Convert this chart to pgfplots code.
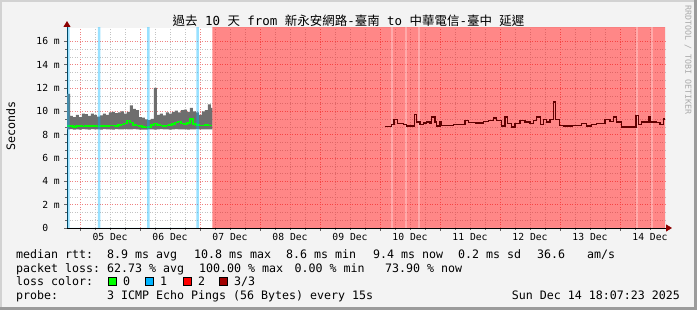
\documentclass[border=0pt]{standalone}
\usepackage{fontspec}
\setmonofont{DejaVu Sans Mono}
\newfontfamily\cjk{Noto Sans CJK TC}
\usepackage{pgfplots}
\usepackage{pgfplotstable}
\pgfplotsset{compat=1.18}
\usetikzlibrary{arrows.meta}

\definecolor{bgc}{RGB}{243,243,243}
\definecolor{smoke}{RGB}{110,110,110}
\definecolor{loss0}{RGB}{0,255,0}
\definecolor{loss1}{RGB}{0,180,255}
\definecolor{loss2}{RGB}{255,0,0}
\definecolor{loss3}{RGB}{160,0,0}
\definecolor{medred}{RGB}{95,0,0}
\definecolor{arrowred}{RGB}{140,0,0}
\definecolor{mgrid}{RGB}{238,130,130}
\definecolor{ngrid}{RGB}{195,195,195}
\definecolor{frameL}{RGB}{210,210,210}
\definecolor{frameD}{RGB}{155,155,155}
\definecolor{wmark}{RGB}{170,170,170}

\newcommand\axisfont{\ttfamily\fontsize{9.7}{11}\selectfont}
\newcommand\legfont{\ttfamily\fontsize{11.63}{13}\selectfont}
\newcommand\titlefont{\ttfamily\fontsize{12.46}{14}\selectfont}
\newcommand\wfont{\ttfamily\fontsize{8.3}{9}\selectfont}

% median rtt while loss was 0 (time as day of December)
\pgfplotstableread{
x med
4.783 8.72
4.833 8.75
4.88 8.68
4.93 8.72
4.98 8.75
5.03 8.70
5.08 8.74
5.13 8.72
5.18 8.76
5.23 8.73
5.28 8.71
5.33 8.74
5.38 8.72
5.43 8.75
5.48 8.80
5.53 8.78
5.58 8.76
5.63 8.82
5.68 8.86
5.73 8.95
5.78 9.20
5.83 9.05
5.88 8.85
5.93 8.80
5.98 8.72
6.03 8.65
6.08 8.62
6.13 8.68
6.18 8.85
6.23 8.95
6.28 8.82
6.33 8.78
6.38 8.76
6.43 8.80
6.48 8.85
6.53 8.90
6.58 9.05
6.63 9.12
6.68 8.95
6.73 8.90
6.78 9.00
6.83 9.35
6.88 8.90
6.93 8.82
6.98 8.78
7.03 8.80
7.08 8.82
7.13 8.80
7.18 8.78
7.205 8.78
}\meddata

% smoke band: upper edge left to right, then lower edge right to left
\pgfplotstableread{
x y
4.783 11.5
4.833 9.6
4.88 9.5
4.93 9.7
4.98 9.5
5.03 9.8
5.08 9.75
5.13 9.6
5.18 9.8
5.23 9.7
5.28 9.55
5.33 9.66
5.38 9.8
5.43 9.7
5.48 9.9
5.53 9.95
5.58 9.85
5.63 9.9
5.68 10.0
5.73 9.8
5.78 9.95
5.83 10.5
5.88 10.2
5.93 10.1
5.98 9.5
6.03 9.45
6.08 9.3
6.13 9.25
6.18 9.35
6.23 12.0
6.28 9.7
6.33 9.8
6.38 9.65
6.43 9.9
6.48 9.8
6.53 9.95
6.58 10.05
6.63 9.9
6.68 10.1
6.73 10.15
6.78 9.95
6.83 10.3
6.88 10.0
6.93 9.9
6.98 9.7
7.03 10.0
7.08 10.1
7.13 10.6
7.18 10.3
7.205 10.3
7.205 8.46
7.18 8.46
7.13 8.45
7.08 8.46
7.03 8.45
6.98 8.47
6.93 8.45
6.88 8.46
6.83 8.44
6.78 8.45
6.73 8.46
6.68 8.45
6.63 8.47
6.58 8.46
6.53 8.44
6.48 8.46
6.43 8.45
6.38 8.47
6.33 8.45
6.28 8.44
6.23 8.46
6.18 8.45
6.13 8.44
6.08 8.42
6.03 8.43
5.98 8.45
5.93 8.47
5.88 8.45
5.83 8.46
5.78 8.48
5.73 8.46
5.68 8.45
5.63 8.47
5.58 8.44
5.53 8.46
5.48 8.45
5.43 8.47
5.38 8.44
5.33 8.46
5.28 8.45
5.23 8.47
5.18 8.43
5.13 8.45
5.08 8.48
5.03 8.44
4.98 8.46
4.93 8.44
4.88 8.47
4.833 8.45
4.783 8.42
}\smokepoly

% median under heavy loss
\pgfplotstableread{
x med
10.083 8.71
10.195 8.86
10.233 9.29
10.288 8.94
10.388 8.86
10.445 8.74
10.572 9.72
10.612 9.08
10.667 8.86
10.722 9.00
10.778 9.08
10.833 8.94
10.862 9.51
10.917 9.08
10.945 8.74
11.000 9.08
11.028 8.80
11.222 8.86
11.417 9.23
11.472 9.04
11.600 9.00
11.722 9.12
11.805 9.20
11.888 9.43
11.945 9.20
12.028 8.74
12.083 9.51
12.122 8.94
12.195 8.66
12.250 8.94
12.333 9.23
12.417 9.08
12.500 8.94
12.555 9.23
12.612 9.51
12.678 8.86
12.722 9.30
12.778 9.08
12.833 9.30
12.888 10.80
12.928 9.30
12.988 8.80
13.055 8.74
13.200 8.78
13.362 8.94
13.445 8.74
13.528 8.86
13.612 8.94
13.750 9.30
13.833 9.12
13.888 9.51
13.945 9.08
14.028 8.66
14.267 9.66
14.305 8.86
14.362 9.08
14.472 9.57
14.500 9.08
14.612 9.04
14.667 8.86
14.722 9.35
14.750 9.35
}\reddata

\begin{document}
\begin{tikzpicture}
\fill[bgc] (0pt,0pt) rectangle (697pt,310pt);
\fill[frameL] (0pt,0pt) rectangle (2pt,310pt);
\fill[frameL] (0pt,308pt) rectangle (697pt,310pt);
\fill[frameD] (694pt,0pt) rectangle (697pt,310pt);
\fill[frameD] (0pt,0pt) rectangle (697pt,3pt);

\begin{axis}[
  at={(67pt,82pt)}, anchor=south west,
  width=598pt, height=200pt, scale only axis,
  xmin=4.783, xmax=14.75, ymin=0, ymax=17.14,
  axis background/.style={fill=white},
  axis lines=left,
  x axis line style={black, line width=0.8pt, shorten >=-7pt,
     -{Triangle[width=7pt,length=6pt,fill=arrowred,color=arrowred]}},
  y axis line style={black, line width=0.8pt, shorten >=-7pt,
     -{Triangle[width=7pt,length=6pt,fill=arrowred,color=arrowred]}},
  grid=both,
  major grid style={mgrid, line width=0.5pt, dash pattern=on 1pt off 1.5pt},
  minor grid style={ngrid, line width=0.5pt, dash pattern=on 1pt off 1.5pt},
  tick align=outside,
  major tick length=3pt, minor tick length=2pt,
  tick style={black!60, line width=0.4pt},
  xtick={5,6,...,14},
  xticklabels={},
  minor xtick={5.25,5.5,5.75,6.25,6.5,6.75,7.25,7.5,7.75,8.25,8.5,8.75,9.25,9.5,9.75,10.25,10.5,10.75,11.25,11.5,11.75,12.25,12.5,12.75,13.25,13.5,13.75,14.25,14.5},
  extra x ticks={5.5,6.5,7.5,8.5,9.5,10.5,11.5,12.5,13.5,14.5},
  extra x tick labels={05 Dec,06 Dec,07 Dec,08 Dec,09 Dec,10 Dec,11 Dec,12 Dec,13 Dec,14 Dec},
  extra x tick style={xmajorgrids=false, major tick length=0pt},
  ytick={0,2,4,6,8,10,12,14,16},
  yticklabels={0\hphantom{\ m},2 m,4 m,6 m,8 m,10 m,12 m,14 m,16 m},
  minor y tick num=2,
  tick label style={font=\axisfont, black},
  yticklabel style={anchor=east, inner xsep=0pt, xshift=-4pt},
  xticklabel style={yshift=-2pt},
  clip=true,
]
% smoke
\addplot[const plot, fill=smoke, draw=none] table[x=x, y=y] {\smokepoly} --cycle;
% median, loss 0
\addplot[const plot, color=loss0, line width=1.6pt] table[x=x, y=med] {\meddata};
% loss 1 background strips
\addplot[const plot, fill=loss1, fill opacity=0.4, draw=none]
  coordinates {(4.784,17.3) (4.826,0) (5.296,17.3) (5.338,0) (6.117,17.3) (6.159,0) (6.941,17.3) (6.983,0)} \closedcycle;
% loss background (red)
\addplot[const plot, fill=loss2, fill opacity=0.47, draw=none]
  coordinates {(7.205,17.3) (14.75,17.3)} \closedcycle;
% lighter gaps in the loss background
\addplot[const plot, fill=white, fill opacity=0.45, draw=none]
  coordinates {(10.188,17.3) (10.212,0) (10.421,17.3) (10.445,0) (10.638,17.3) (10.662,0) (14.271,17.3) (14.295,0) (14.521,17.3) (14.545,0)} \closedcycle;
% median under heavy loss
\addplot[const plot, color=medred, line width=1.3pt] table[x=x, y=med] {\reddata};
\end{axis}

% title
\node[anchor=base, inner sep=0pt, font=\titlefont] at (348.5pt,284.5pt)
  {{\cjk 過去} 10 {\cjk 天} from {\cjk 新永安網路}-{\cjk 臺南} to {\cjk 中華電信}-{\cjk 臺中} {\cjk 延遲}};
% y label
\node[rotate=90, inner sep=0pt, font=\legfont] at (10.8pt,184pt) {Seconds};
% watermark
\node[rotate=-90, inner sep=0pt, font=\wfont, text=wmark] at (688pt,250pt) {RRDTOOL / TOBI OETIKER};

% legend
\begin{scope}[every node/.style={anchor=base west, inner sep=0pt, font=\legfont}]
\node at (16pt,51.7pt) {median rtt:};
\node at (107pt,51.7pt) {8.9 ms avg};
\node at (194pt,51.7pt) {10.8 ms max};
\node at (286pt,51.7pt) {8.6 ms min};
\node at (373pt,51.7pt) {9.4 ms now};
\node at (458pt,51.7pt) {0.2 ms sd};
\node at (537pt,51.7pt) {36.6};
\node at (587pt,51.7pt) {am/s};

\node at (16pt,37.7pt) {packet loss:};
\node at (107pt,37.7pt) {62.73 \% avg};
\node at (199pt,37.7pt) {100.00 \% max};
\node at (294.5pt,37.7pt) {0.00 \% min};
\node at (385pt,37.7pt) {73.90 \% now};

\node at (16pt,24pt) {loss color:};
\node at (123pt,24pt) {0};
\node at (160pt,24pt) {1};
\node at (198pt,24pt) {2};
\node at (234pt,24pt) {3/3};

\node at (16pt,10.5pt) {probe:};
\node at (107pt,10.5pt) {3 ICMP Echo Pings (56 Bytes) every 15s};
\node[anchor=base east] at (680pt,10.5pt) {Sun Dec 14 18:07:23 2025};
\end{scope}
\draw[black, line width=0.5pt, fill=loss0] (108.5pt,24.5pt) rectangle (116.5pt,32.5pt);
\draw[black, line width=0.5pt, fill=loss1] (145.5pt,24.5pt) rectangle (153.5pt,32.5pt);
\draw[black, line width=0.5pt, fill=loss2] (183.5pt,24.5pt) rectangle (191.5pt,32.5pt);
\draw[black, line width=0.5pt, fill=loss3] (219.5pt,24.5pt) rectangle (227.5pt,32.5pt);
\pgfresetboundingbox
\useasboundingbox (0pt,0pt) rectangle (697pt,310pt);
\end{tikzpicture}
\end{document}
